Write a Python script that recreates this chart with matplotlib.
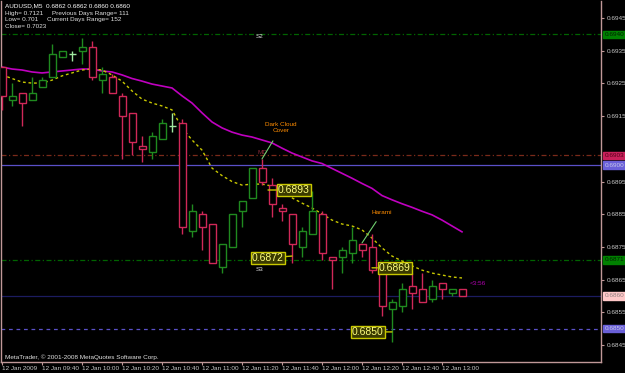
import matplotlib.pyplot as plt
import matplotlib.transforms as mtransforms

# AUDUSD M5, 12 Jan 2009 (one value per bar)
opens = [0.6930, 0.6920, 0.6922, 0.6920, 0.6924, 0.6927, 0.6933, 0.6934, 0.6935, 0.6936,
         0.6926, 0.6927, 0.6921, 0.6916, 0.6906, 0.6904, 0.6908, 0.6912, 0.6913, 0.6880,
         0.6885, 0.6882, 0.6869, 0.6875, 0.6886, 0.6890, 0.6899, 0.6894, 0.6887, 0.6885,
         0.6875, 0.6879, 0.6885, 0.6872, 0.6872, 0.6873, 0.6876, 0.6875, 0.6869, 0.6856,
         0.6857, 0.6863, 0.6862, 0.6859, 0.6864, 0.6861, 0.6862]
highs = [0.6930, 0.6925, 0.6922, 0.6927, 0.6927, 0.6937, 0.6935, 0.6935, 0.6939, 0.6938,
         0.6930, 0.6928, 0.6922, 0.6916, 0.6909, 0.6910, 0.6914, 0.6916, 0.6914, 0.6888,
         0.6886, 0.6882, 0.6876, 0.6885, 0.6889, 0.6899, 0.6902, 0.6896, 0.6888, 0.6885,
         0.6881, 0.6892, 0.6886, 0.6872, 0.6875, 0.6881, 0.6876, 0.6879, 0.6869, 0.6859,
         0.6864, 0.6867, 0.6867, 0.6865, 0.6864, 0.6862, 0.6862]
lows = [0.6917, 0.6918, 0.6912, 0.6920, 0.6924, 0.6927, 0.6933, 0.6932, 0.6931, 0.6926,
        0.6922, 0.6922, 0.6902, 0.6903, 0.6901, 0.6902, 0.6908, 0.6910, 0.6879, 0.6878,
        0.6874, 0.6870, 0.6867, 0.6875, 0.6881, 0.6890, 0.6894, 0.6884, 0.6883, 0.6870,
        0.6872, 0.6879, 0.6871, 0.6862, 0.6867, 0.6870, 0.6872, 0.6867, 0.6854, 0.6846,
        0.6855, 0.6856, 0.6858, 0.6858, 0.6859, 0.6860, 0.6860]
closes = [0.6921, 0.6921, 0.6919, 0.6922, 0.6926, 0.6934, 0.6935, 0.6934, 0.6936, 0.6927,
          0.6928, 0.6922, 0.6915, 0.6907, 0.6905, 0.6909, 0.6913, 0.6912, 0.6881, 0.6886,
          0.6881, 0.6870, 0.6876, 0.6885, 0.6889, 0.6899, 0.6895, 0.6888, 0.6886, 0.6876,
          0.6880, 0.6886, 0.6873, 0.6871, 0.6874, 0.6877, 0.6874, 0.6868, 0.6857, 0.6858,
          0.6862, 0.6861, 0.6858, 0.6863, 0.6862, 0.6862, 0.6860]

# moving averages
ma_slow = [0.69300, 0.69294, 0.69291, 0.69285, 0.69282, 0.69285, 0.69288, 0.69291, 0.69294, 0.69294,
           0.69288, 0.69285, 0.69276, 0.69265, 0.69257, 0.69248, 0.69242, 0.69236, 0.69212, 0.69190,
           0.69160, 0.69132, 0.69114, 0.69101, 0.69092, 0.69086, 0.69077, 0.69068, 0.69052, 0.69037,
           0.69025, 0.69013, 0.69005, 0.68990, 0.68975, 0.68960, 0.68944, 0.68929, 0.68907, 0.68894,
           0.68882, 0.68871, 0.68859, 0.68848, 0.68832, 0.68814, 0.68796]
ma_fast = [0.69276, 0.69265, 0.69254, 0.69251, 0.69251, 0.69260, 0.69273, 0.69282, 0.69291, 0.69294,
           0.69291, 0.69276, 0.69257, 0.69227, 0.69202, 0.69190, 0.69181, 0.69169, 0.69114, 0.69077,
           0.69046, 0.68991, 0.68968, 0.68950, 0.68939, 0.68942, 0.68942, 0.68936, 0.68915, 0.68900,
           0.68884, 0.68869, 0.68851, 0.68832, 0.68820, 0.68814, 0.68802, 0.68777, 0.68747, 0.68722,
           0.68707, 0.68692, 0.68679, 0.68670, 0.68664, 0.68658, 0.68655]

tick_bars = [0, 4, 8, 12, 16, 20, 24, 28, 32, 36, 40, 44]
tick_labels = ['12 Jan 2009', '12 Jan 09:40', '12 Jan 10:00', '12 Jan 10:20', '12 Jan 10:40',
               '12 Jan 11:00', '12 Jan 11:20', '12 Jan 11:40', '12 Jan 12:00', '12 Jan 12:20',
               '12 Jan 12:40', '12 Jan 13:00']
price_ticks = [0.6845, 0.6855, 0.6865, 0.6875, 0.6885, 0.6895, 0.6915, 0.6925, 0.6935, 0.6945]

# horizontal levels: value, line colour, style, box colour, box text colour
levels = [
    (0.6940, '#006400', (0, (4, 2, 1, 2)), '#008000', '#002000'),
    (0.6903, '#7a2a1a', (0, (4, 2, 1, 2)), '#c8205a', '#500018'),
    (0.6900, '#5a50c8', '-', '#6a60d8', '#c8c8e8'),
    (0.6871, '#006400', (0, (4, 2, 1, 2)), '#008000', '#002000'),
    (0.6860, '#1c1c60', '-', '#ffc8c8', '#908080'),
    (0.6850, '#5a50c8', (0, (3, 3)), '#6a60d8', '#c8c8e8'),
]

plt.rcParams['font.family'] = ['Liberation Sans', 'DejaVu Sans']
fs = 4.6

fig = plt.figure(figsize=(6.25, 3.73), dpi=100, facecolor='black')
ax = fig.add_axes([1 / 625, 11 / 373, 600 / 625, 361 / 373])
ax.set_facecolor('black')

bull = '#1f8a1f'
bear = '#d02858'
doji = '#a0e8a0'

for lvl, lc, ls, bc, tc in levels:
    ax.axhline(lvl, color=lc, lw=0.9, ls=ls, zorder=1)

ax.plot(range(len(ma_slow)), ma_slow, color='#c000c0', lw=1.2, zorder=2)
ax.plot(range(len(ma_fast)), ma_fast, color='#c8c800', lw=1.0, ls=(0, (2, 2)), zorder=2)

for i in range(len(opens)):
    o, h, l, c = opens[i], highs[i], lows[i], closes[i]
    if c > o:
        col = bull
    elif c < o:
        col = bear
    else:
        col = doji
    ax.vlines(i, l, h, color=col, lw=1.0, zorder=3)
    ax.bar(i, abs(c - o), bottom=min(o, c), width=0.7, facecolor='black',
           edgecolor=col, lw=1.0, zorder=4)

ax.set_xlim(-0.1, 59.9)
ax.set_ylim(0.68398, 0.69502)

ax.yaxis.tick_right()
ax.set_yticks(price_ticks)
ax.set_yticklabels(['%.4f' % p for p in price_ticks])
ax.tick_params(axis='y', colors='#c09898', labelcolor='#c8c8c8', labelsize=fs,
               length=2, width=0.8, pad=2)
ax.set_xticks(tick_bars)
ax.set_xticklabels(tick_labels)
ax.tick_params(axis='x', colors='#c09898', labelcolor='#c8c8c8', labelsize=fs,
               length=2, width=0.8, pad=1, direction='out')
for t in ax.get_xticklabels():
    t.set_horizontalalignment('left')
for s in ['left', 'bottom', 'right']:
    ax.spines[s].set_color('#c09898')
    ax.spines[s].set_linewidth(1.0)
ax.spines['top'].set_visible(False)

# price boxes on the right scale
trans = mtransforms.blended_transform_factory(ax.transAxes, ax.transData)
for lvl, lc, ls, bc, tc in levels:
    ax.text(1.006, lvl, '%.4f' % lvl, transform=trans, fontsize=fs, color=tc,
            va='center', ha='left', zorder=6,
            bbox=dict(boxstyle='square,pad=0.2', fc=bc, ec=bc))

# header
hdr = ['AUDUSD,M5  0.6862 0.6862 0.6860 0.6860',
       'High= 0.7121     Previous Days Range= 111',
       'Low= 0.701     Current Days Range= 152',
       'Close= 0.7023']
for j, line in enumerate(hdr):
    ax.text(0.006, 1 - (5 + 7 * j) / 361, line, transform=ax.transAxes, fontsize=fs,
            color='white' if j == 0 else '#e0e0e0', va='center')
ax.text(0.006, 5 / 361, 'MetaTrader, \u00a9 2001-2008 MetaQuotes Software Corp.',
        transform=ax.transAxes, fontsize=fs, color='#e0e0e0', va='center')

# pivot names
ax.text(25.8, 0.69392, 'S2', color='#e0e0e0', fontsize=fs, ha='center', va='center')
ax.text(25.8, 0.68680, 'S3', color='#e0e0e0', fontsize=fs, ha='center', va='center')
ax.text(26.0, 0.69040, 'MD', color='#8a2a3a', fontsize=fs, ha='center', va='center')
ax.text(46.8, 0.68637, '<3:56', color='#b000b0', fontsize=fs, ha='left', va='center')

# candle patterns
ax.annotate('Dark Cloud\nCover', xy=(26, 0.69019), xytext=(27.9, 0.69115),
            color='#ff8c00', fontsize=fs, ha='center', va='center', linespacing=1.4,
            arrowprops=dict(arrowstyle='-', color='#70d070', lw=0.8, shrinkA=4, shrinkB=0))
ax.annotate('Harami', xy=(36, 0.68762), xytext=(38, 0.68854),
            color='#ff8c00', fontsize=fs, ha='center', va='center',
            arrowprops=dict(arrowstyle='-', color='#70d070', lw=0.8, shrinkA=3, shrinkB=0))

# zigzag price labels
zz = [(26.6, 0.68924, 29.2, 0.68924, '0.6893'),
      (29.0, 0.68722, 26.6, 0.68716, '0.6872'),
      (37.0, 0.68686, 39.3, 0.68686, '0.6869'),
      (39.0, 0.68490, 36.6, 0.68490, '0.6850')]
for px, py, tx, ty, s in zz:
    ax.annotate(s, xy=(px, py), xytext=(tx, ty), color='#ffff80', fontsize=7.5,
                ha='center', va='center', zorder=7,
                bbox=dict(boxstyle='square,pad=0.12', fc='#3a3a00', ec='#c8c800', lw=1.0),
                arrowprops=dict(arrowstyle='-', color='#c8c800', lw=1.0, shrinkA=0, shrinkB=0))

fig.savefig('out.png', dpi=100, facecolor='black')
